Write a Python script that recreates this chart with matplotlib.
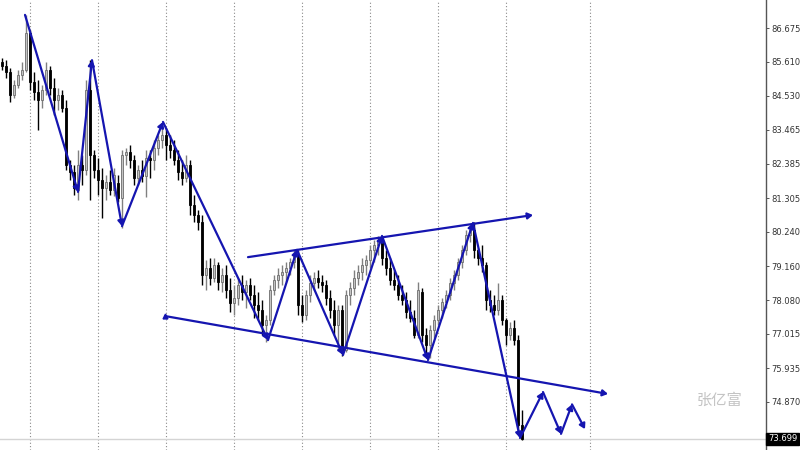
import matplotlib

matplotlib.use("Agg")
import matplotlib.pyplot as plt
import numpy as np

# daily candles (open, high, low, close)
opens = [85.60, 85.48, 85.29, 84.56, 84.88, 85.19, 85.35, 86.52, 84.97, 84.65,
         84.40, 84.72, 85.35, 84.78, 84.40, 84.56, 84.15, 82.35, 82.13, 81.56,
         82.35, 82.19, 84.72, 82.67, 82.19, 81.88, 81.62, 81.81, 81.56, 81.78,
         81.31, 82.67, 82.76, 82.51, 81.94, 82.19, 82.00, 82.57, 82.51, 82.89,
         83.14, 83.30, 82.98, 82.82, 82.51, 82.13, 81.94, 82.35, 81.09, 80.77,
         80.55, 78.88, 79.10, 78.78, 79.19, 78.65, 78.88, 78.40, 77.99, 78.15,
         78.56, 78.34, 78.56, 78.24, 77.93, 77.77, 77.30, 77.45, 78.40, 78.72,
         78.88, 78.97, 79.10, 79.29, 79.51, 77.93, 77.61, 78.24, 78.62, 78.78,
         78.65, 78.56, 78.15, 77.77, 77.30, 77.77, 76.51, 78.24, 78.47, 78.78,
         78.97, 79.19, 79.35, 79.67, 79.82, 79.98, 79.41, 79.10, 78.72, 78.56,
         78.24, 78.09, 77.71, 77.52, 76.98, 78.34, 76.98, 76.67, 77.14, 77.45,
         77.77, 78.02, 78.24, 78.62, 78.88, 79.29, 79.67, 80.14, 80.30, 79.67,
         79.41, 79.19, 78.09, 77.93, 77.77, 78.09, 77.45, 76.98, 77.20, 76.82,
         74.14]
highs = [85.73, 85.66, 85.41, 85.03, 85.35, 85.60, 87.09, 86.61, 85.29, 85.03,
         84.88, 85.60, 85.48, 85.10, 84.78, 84.72, 84.40, 82.51, 82.35, 82.82,
         82.67, 85.03, 85.66, 82.82, 82.57, 82.25, 82.03, 82.19, 82.25, 82.03,
         82.82, 82.89, 82.98, 82.67, 82.35, 82.51, 82.82, 82.82, 83.14, 83.30,
         83.61, 83.52, 83.30, 83.14, 82.82, 82.51, 82.67, 82.51, 81.40, 80.93,
         80.77, 79.35, 79.41, 79.41, 79.29, 79.10, 79.19, 78.78, 78.56, 78.78,
         78.88, 78.72, 78.78, 78.56, 78.34, 78.09, 77.61, 78.56, 78.88, 79.10,
         79.19, 79.29, 79.41, 79.67, 79.67, 78.24, 78.40, 78.88, 78.97, 79.03,
         78.88, 78.72, 78.40, 78.09, 77.93, 77.93, 78.40, 78.65, 79.03, 79.19,
         79.41, 79.51, 79.82, 79.98, 80.11, 80.11, 79.67, 79.41, 79.03, 78.88,
         78.56, 78.34, 78.09, 77.77, 78.65, 78.47, 77.20, 77.30, 77.61, 77.93,
         78.15, 78.40, 78.78, 79.03, 79.41, 79.82, 80.30, 80.45, 80.55, 79.73,
         79.82, 79.29, 78.40, 78.24, 78.62, 78.24, 77.52, 77.39, 77.45, 76.98,
         74.61]
lows = [85.35, 85.10, 84.34, 84.46, 84.78, 85.03, 85.29, 84.72, 84.40, 83.45,
        84.15, 84.56, 84.56, 83.93, 84.09, 84.02, 82.19, 81.88, 81.40, 81.24,
        81.72, 82.03, 81.24, 81.94, 81.40, 80.68, 81.24, 81.40, 81.37, 81.18,
        80.36, 82.35, 82.25, 81.72, 81.72, 81.81, 81.34, 81.94, 82.19, 82.67,
        82.89, 82.51, 82.57, 82.35, 81.88, 81.72, 81.81, 80.77, 80.55, 80.30,
        78.56, 78.40, 78.56, 78.65, 78.40, 78.34, 78.15, 77.71, 77.61, 77.93,
        78.09, 77.83, 78.09, 77.52, 77.45, 76.98, 76.76, 77.30, 78.24, 78.47,
        78.56, 78.65, 78.88, 79.10, 77.61, 77.39, 77.45, 78.02, 78.40, 78.47,
        78.34, 77.93, 77.52, 76.98, 76.51, 76.32, 76.44, 77.93, 78.24, 78.56,
        78.72, 78.88, 79.10, 79.29, 79.51, 79.19, 78.88, 78.56, 78.40, 78.09,
        77.93, 77.52, 77.39, 76.89, 76.89, 76.76, 76.35, 76.26, 76.89, 77.30,
        77.52, 77.83, 78.09, 78.40, 78.72, 79.10, 79.51, 79.92, 79.41, 79.19,
        78.97, 77.77, 77.71, 77.61, 77.61, 77.30, 76.67, 76.82, 76.67, 73.92,
        73.67]
closes = [85.48, 85.29, 84.56, 84.88, 85.19, 85.35, 86.52, 84.97, 84.65, 84.40,
          84.72, 85.35, 84.78, 84.40, 84.56, 84.15, 82.35, 82.13, 81.62, 82.35,
          82.19, 84.72, 82.67, 82.19, 81.88, 81.62, 81.81, 81.56, 82.03, 81.31,
          82.67, 82.76, 82.51, 81.94, 82.19, 82.00, 82.57, 82.51, 82.89, 83.14,
          83.30, 82.98, 82.82, 82.51, 82.13, 81.94, 82.35, 81.09, 80.77, 80.55,
          78.88, 79.10, 78.78, 79.19, 78.65, 78.88, 78.40, 77.99, 78.15, 78.56,
          78.34, 78.56, 78.24, 77.93, 77.77, 77.30, 77.45, 78.40, 78.72, 78.88,
          78.97, 79.10, 79.29, 79.51, 77.93, 77.61, 78.24, 78.62, 78.78, 78.65,
          78.56, 78.15, 77.77, 77.30, 77.77, 76.51, 78.24, 78.47, 78.78, 78.97,
          79.19, 79.35, 79.67, 79.82, 79.98, 79.41, 79.10, 78.72, 78.56, 78.24,
          78.09, 77.71, 77.52, 76.98, 78.40, 76.98, 76.67, 77.14, 77.45, 77.77,
          78.02, 78.24, 78.62, 78.88, 79.29, 79.67, 80.14, 80.30, 79.67, 79.41,
          79.19, 78.09, 77.93, 77.77, 78.09, 77.45, 76.98, 77.20, 76.82, 74.14,
          73.699]

# hand-drawn wave lines (bar index, price)
zig_x = [5.75, 19.0, 22.5, 30.0, 40.25, 66.5, 73.75, 85.25, 95.0, 106.5, 117.75,
         129.5, 135.25, 139.75, 142.5, 145.75]
zig_y = [87.09, 81.50, 85.66, 80.42, 83.71, 76.82, 79.67, 76.35, 80.11, 76.19,
         80.52, 73.73, 75.18, 73.86, 74.79, 74.01]
upper_x = [61.5, 132.75]
upper_y = [79.44, 80.77]
lower_x = [40.75, 151.5]
lower_y = [77.58, 75.12]

separators = [7, 24, 41, 58, 75, 92, 109, 126, 147]
price_ticks = [86.675, 85.610, 84.530, 83.465, 82.385, 81.305, 80.240, 79.160,
               78.080, 77.015, 75.935, 74.870, 73.790]
last_price = 73.699
watermark = "张亿富"

BLUE = "#1515b0"

fig = plt.figure(figsize=(8, 4.5), dpi=100)
ax = fig.add_axes([0, 0, 766 / 800, 1])

for s in separators:
    ax.axvline(s, color="#8a8a8a", lw=0.8, ls=(0, (1, 2)), zorder=0)
ax.axhline(last_price, color="#d4d4d4", lw=1.0, zorder=0)

o, h, l, c = map(np.array, (opens, highs, lows, closes))
x = np.arange(len(c))
up = c >= o
ax.vlines(x[up], l[up], h[up], color="#808080", lw=1.0, zorder=2)
ax.vlines(x[~up], l[~up], h[~up], color="black", lw=1.0, zorder=2)
ax.bar(x[up], c[up] - o[up], bottom=o[up], width=0.7, color="#c4c4c4",
       edgecolor="#6e6e6e", lw=0.6, zorder=3)
ax.bar(x[~up], o[~up] - c[~up], bottom=c[~up], width=0.7, color="black",
       edgecolor="black", lw=0.6, zorder=3)


def arrow(x0, y0, x1, y1):
    ax.annotate("", xy=(x1, y1), xytext=(x0, y0),
                arrowprops=dict(arrowstyle="-|>,head_length=0.5,head_width=0.3",
                                color=BLUE, lw=1.6, shrinkA=0, shrinkB=0,
                                mutation_scale=6), zorder=5)


for i in range(len(zig_x) - 1):
    arrow(zig_x[i], zig_y[i], zig_x[i + 1], zig_y[i + 1])
arrow(upper_x[0], upper_y[0], upper_x[1], upper_y[1])
arrow(lower_x[0], lower_y[0], lower_x[1], lower_y[1])
ax.plot(lower_x[0], lower_y[0], marker="^", ms=3.5, color=BLUE, zorder=5)

ax.set_xlim(-0.5, 191.0)
ax.set_ylim(73.35, 87.56)
for side in ("top", "left", "bottom"):
    ax.spines[side].set_visible(False)
ax.spines["right"].set_color("#555555")
ax.spines["right"].set_linewidth(1.0)
ax.set_xticks([])
ax.yaxis.tick_right()
ax.set_yticks(price_ticks)
ax.set_yticklabels([f"{v:.3f}" for v in price_ticks])
ax.tick_params(axis="y", direction="out", length=2.5, width=0.7, color="#555555",
               labelsize=6.0, labelcolor="#333333", pad=1.5)

ax.annotate(f"{last_price:.3f}", xy=(1.0, last_price), xycoords=("axes fraction", "data"),
            xytext=(1.5, 0), textcoords="offset points", va="center", ha="left",
            fontsize=6.0, color="white", annotation_clip=False, zorder=10,
            bbox=dict(boxstyle="square,pad=0.2", fc="black", ec="black"))

# watermark sits at about pixel x=720 -> bar index 179.5
ax.text(179.5, 74.92, watermark, fontsize=11, color="#c4c4c4", ha="center",
        va="center", family=["Noto Sans CJK SC", "DejaVu Sans"])

fig.savefig("out.png", dpi=100)
